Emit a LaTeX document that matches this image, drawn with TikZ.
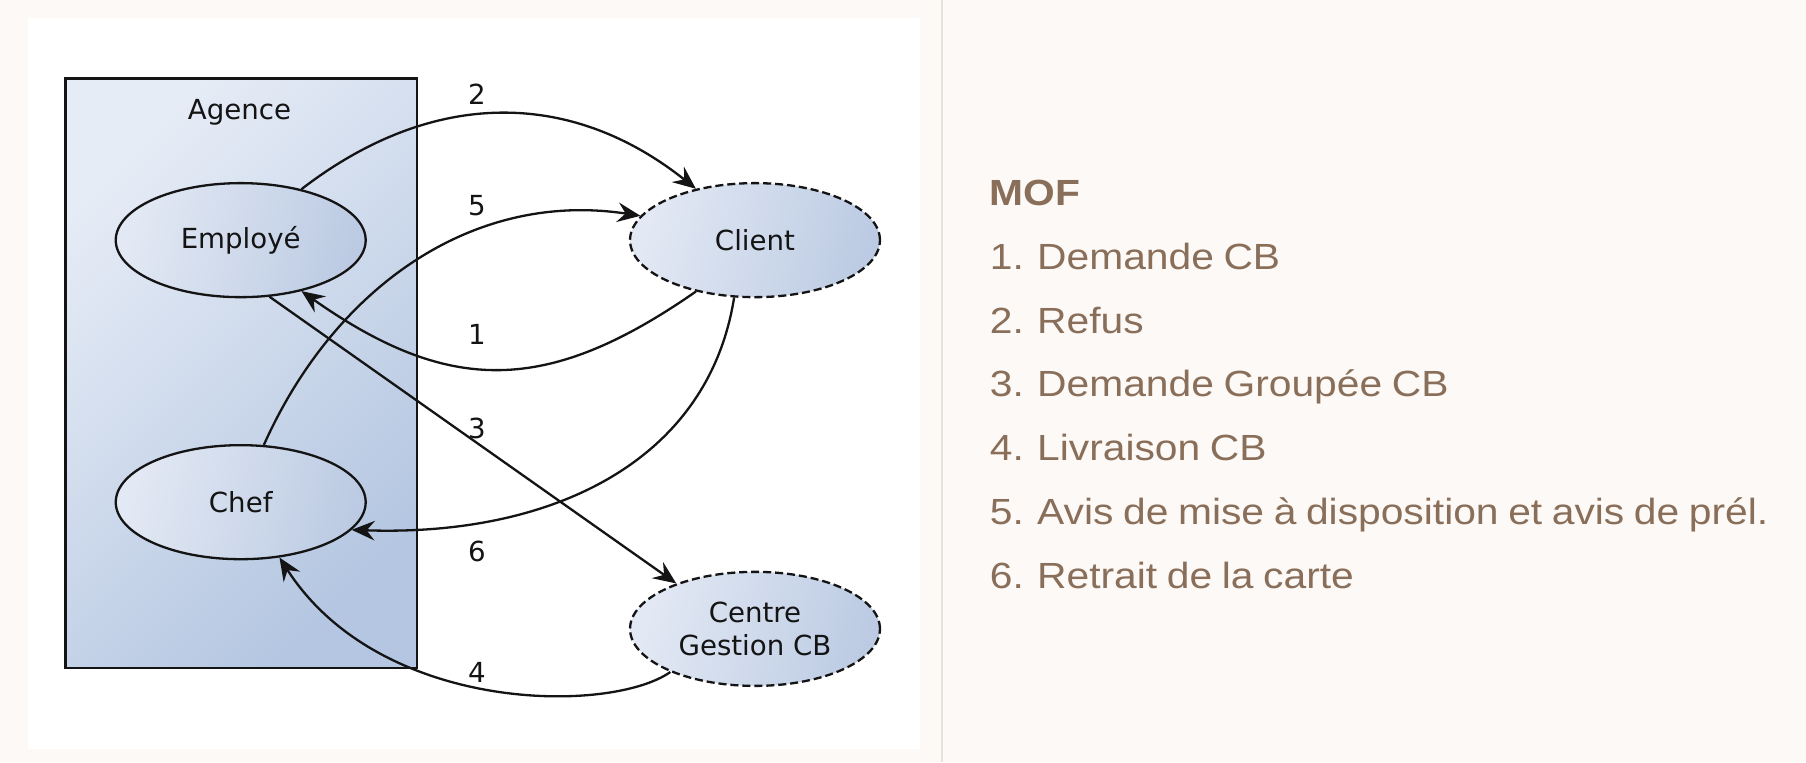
\documentclass[tikz,border=0pt]{standalone}
\usepackage{fontspec}
\setmainfont{Liberation Sans}
\newfontfamily\diagfont{DejaVu Sans}
\newfontfamily\listfont[FakeStretch=1.12,WordSpace=0.85]{Liberation Sans}
\usetikzlibrary{arrows.meta,shapes.geometric}
\definecolor{pagebg}{HTML}{FDF9F6}
\definecolor{sepline}{HTML}{E7E1DB}
\definecolor{txtbrown}{RGB}{137,111,90}
\definecolor{boxlight}{RGB}{230,236,246}
\definecolor{boxdark}{RGB}{180,198,225}
\definecolor{ellight}{RGB}{227,233,244}
\definecolor{eldark}{RGB}{188,203,227}
\definecolor{ink}{RGB}{20,20,20}
\begin{document}
\begin{tikzpicture}[x=0.5pt,y=-0.5pt,
  actor/.style={ellipse, draw=ink, line width=1pt, minimum width=108.5pt, minimum height=49.5pt,
    inner sep=0pt, top color=ellight, bottom color=eldark, shading angle=75, text=ink, align=center,
    font=\diagfont\fontsize{12}{14.7}\selectfont},
  external/.style={actor, dash pattern=on 3.5pt off 1.7pt},
  flow/.style={draw=ink, line width=1pt, -{Stealth[length=10pt,width=8.5pt,inset=3.5pt]}},
  num/.style={text=ink, font=\diagfont\fontsize{12}{14}\selectfont},
  item/.style={anchor=base west, text=txtbrown, inner sep=0pt, font=\listfont\fontsize{15.8}{18}\selectfont}
]
% page and panels
\fill[pagebg] (0,0) rectangle (1568,662);
\useasboundingbox (0,0) rectangle (1568,662);
\fill[white] (24,16) rectangle (799,650);
\draw[sepline, line width=0.6pt] (818,0) -- (818,662);

% Agence box
\node[draw=ink, line width=1.2pt, top color=boxlight, bottom color=boxdark, shading angle=45,
  minimum width=152.5pt, minimum height=256pt, inner sep=0pt] (agence) at (209.5,324) {};
\node[text=ink, font=\diagfont\fontsize{12}{14}\selectfont] (agencelbl) at (208,97.5) {Agence};

% actors
\node[actor] (emp) at (209,208.5) {Employé};
\node[actor] (chef) at (209,436) {Chef};
\node[external] (cli) at (655.5,208.5) {Client};
\node[external] (cgcb) at (655.5,546) {Centre\\Gestion CB};

% flows
\draw[flow] (emp.40) .. controls (375,77) and (495,77) .. (cli.139);
\draw[flow] (chef.68) .. controls (290,250) and (410,165) .. (cli.168);
\draw[flow] (cli.221) .. controls (475,343) and (390,343) .. (emp.320);
\draw[flow] (emp.297) -- (cgcb.150);
\draw[flow] (cli.250) .. controls (615,400) and (480,466) .. (chef.346);
\draw[flow] (cgcb.207) .. controls (530,620) and (330,620) .. (chef.305);

% flow numbers
\node[num] (n2) at (414,82) {2};
\node[num] (n5) at (414,178.6) {5};
\node[num] (n1) at (414,290) {1};
\node[num] (n3) at (414,372) {3};
\node[num] (n6) at (414,479) {6};
\node[num] (n4) at (414,584) {4};

% legend
\node[item, font=\listfont\bfseries\fontsize{15.8}{18}\selectfont] (mof) at (859,178.8) {MOF};
\node[item] (l1) at (859,233.8) {1. Demande CB};
\node[item] (l2) at (859,289.2) {2. Refus};
\node[item] (l3) at (859,344.6) {3. Demande Groupée CB};
\node[item] (l4) at (859,400) {4. Livraison CB};
\node[item] (l5) at (859,455.4) {5. Avis de mise à disposition et avis de prél.};
\node[item] (l6) at (859,510.8) {6. Retrait de la carte};
\end{tikzpicture}
\end{document}
